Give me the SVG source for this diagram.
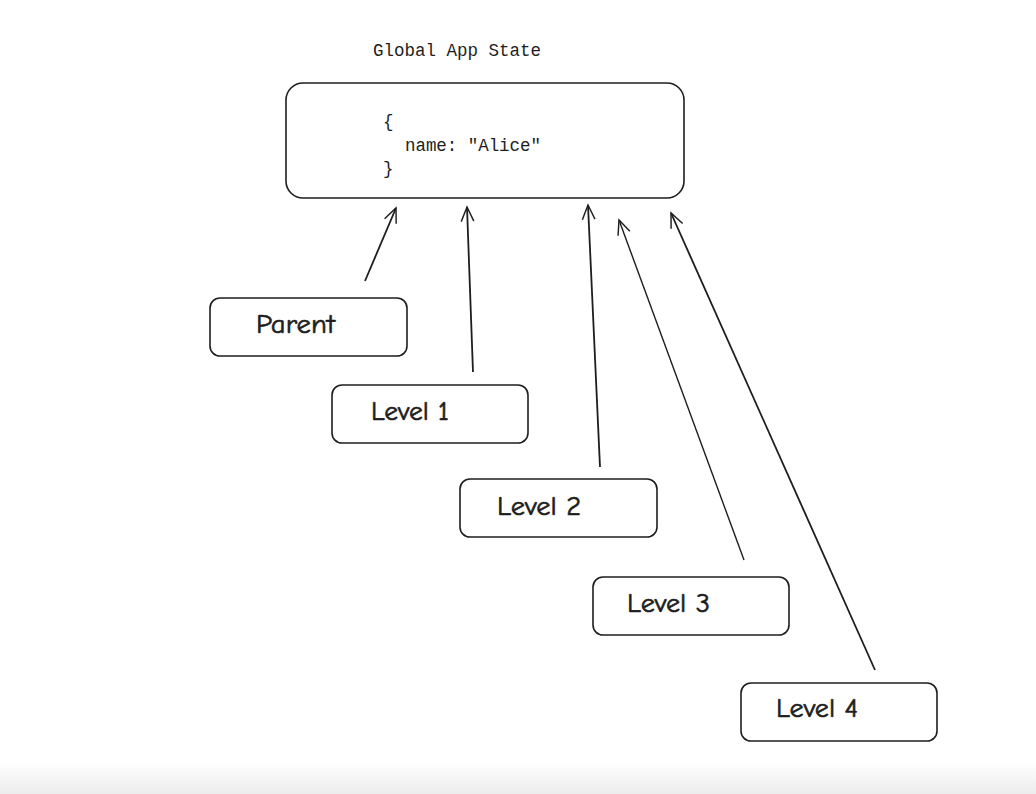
<svg xmlns="http://www.w3.org/2000/svg" width="1036" height="794" viewBox="0 0 1036 794">
<defs>
<style>
.box{fill:#ffffff;stroke:#1e1e1e;stroke-width:1.6}
.mono{font-family:"Liberation Mono","DejaVu Sans Mono",monospace;font-size:17.5px;fill:#1e1e1e}
.hand{font-family:"Comic Neue","Liberation Sans","DejaVu Sans",sans-serif;font-size:26px;fill:#1e1e1e;stroke:#1e1e1e;stroke-width:0.6}
.conn{fill:none;stroke:#1e1e1e;stroke-width:1.8}
</style>
<marker id="arr" viewBox="0 0 20 20" refX="18" refY="10" markerWidth="18" markerHeight="18" markerUnits="userSpaceOnUse" orient="auto">
<path d="M2 3 L18 10 L2 17" fill="none" stroke="#1e1e1e" stroke-width="1.6"/>
</marker>
<linearGradient id="bot" x1="0" y1="0" x2="0" y2="1">
<stop offset="0" stop-color="#ffffff"/>
<stop offset="1" stop-color="#ececec"/>
</linearGradient>
</defs>
<rect x="0" y="0" width="1036" height="794" fill="#ffffff"/>
<rect x="0" y="762" width="1036" height="32" fill="url(#bot)"/>
<g id="global-state">
<text class="mono" x="373" y="56" textLength="168">Global App State</text>
<rect class="box" x="286" y="83" width="398" height="115" rx="17"/>
<text class="mono" x="383" y="127">{</text>
<text class="mono" x="405" y="151" textLength="136">name: "Alice"</text>
<text class="mono" x="383" y="174">}</text>
</g>
<g id="parent">
<rect class="box" x="210" y="298" width="197" height="58" rx="10"/>
<text class="hand" x="256" y="333" textLength="79" lengthAdjust="spacingAndGlyphs">Parent</text>
</g>
<g id="level1">
<rect class="box" x="332" y="385" width="196" height="58" rx="10"/>
<text class="hand" x="371" y="420" textLength="78" lengthAdjust="spacingAndGlyphs">Level 1</text>
</g>
<g id="level2">
<rect class="box" x="460" y="479" width="197" height="58" rx="10"/>
<text class="hand" x="497" y="515" textLength="84" lengthAdjust="spacingAndGlyphs">Level 2</text>
</g>
<g id="level3">
<rect class="box" x="593" y="577" width="196" height="58" rx="10"/>
<text class="hand" x="627" y="612" textLength="83" lengthAdjust="spacingAndGlyphs">Level 3</text>
</g>
<g id="level4">
<rect class="box" x="741" y="683" width="196" height="58" rx="10"/>
<text class="hand" x="776" y="717" textLength="82" lengthAdjust="spacingAndGlyphs">Level 4</text>
</g>
<g id="connectors">
<line class="conn" x1="365" y1="281" x2="396" y2="208" marker-end="url(#arr)"/>
<line class="conn" x1="473" y1="372" x2="467" y2="207" marker-end="url(#arr)"/>
<line class="conn" x1="600" y1="467" x2="588" y2="205" marker-end="url(#arr)"/>
<line class="conn" x1="744" y1="560" x2="619" y2="220" marker-end="url(#arr)" style="stroke-width:1.4"/>
<line class="conn" x1="875" y1="670" x2="671" y2="213" marker-end="url(#arr)"/>
</g>
</svg>
